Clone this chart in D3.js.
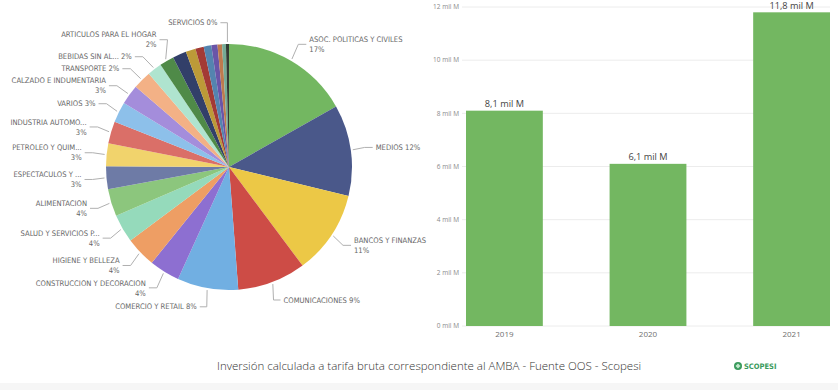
<!DOCTYPE html>
<html><head><meta charset="utf-8">
<script src="https://cdn.jsdelivr.net/npm/d3@7"></script>
<style>
html,body{margin:0;padding:0;background:#fff;}
svg{display:block;}
</style></head>
<body>
<svg id="c" width="838" height="390"></svg>
<script>
// ---------- DATA ----------
const pieCategories = [
  "ASOC. POLITICAS Y CIVILES","MEDIOS","BANCOS Y FINANZAS","COMUNICACIONES","COMERCIO Y RETAIL",
  "CONSTRUCCION Y DECORACION","HIGIENE Y BELLEZA","SALUD Y SERVICIOS P...","ALIMENTACION","ESPECTACULOS Y ...",
  "PETROLEO Y QUIM...","INDUSTRIA AUTOMO...","VARIOS","CALZADO E INDUMENTARIA","TRANSPORTE",
  "BEBIDAS SIN AL...","ARTICULOS PARA EL HOGAR","OTRO 1","OTRO 2","OTRO 3","OTRO 4","OTRO 5","OTRO 6","OTRO 7","SERVICIOS"
];
const pieShares = [16.8,12.0,11.0,9.0,8.0,4.0,4.0,3.7,3.6,3.0,3.0,2.9,2.7,2.6,2.4,1.9,1.9,1.8,1.3,1.1,1.0,0.8,0.6,0.5,0.4];
const pieColors = ["#73B761","#4A588A","#ECC846","#CD4C46","#71AFE2","#8D6FD1","#EE9E64","#95DABB","#8CC67D","#6E7BA6",
  "#F1D36C","#DA6F68","#8DC0EA","#A48DDB","#F3B186","#AFE4CF","#4F8A48","#323F69","#BC9A38","#A33A35","#5484AF","#6A55A8","#BE7A4E","#74AA95","#333B33"];
const labeledCategories = pieCategories.filter(c => !c.startsWith("OTRO"));

const years = ["2019","2020","2021"];
const investment = [8.1, 6.1, 11.8];          // mil M
const yTicks = [0,2,4,6,8,10,12];
const footerText = "Inversión calculada a tarifa bruta correspondiente al AMBA - Fuente OOS - Scopesi";

// ---------- LAYOUT CONFIG ----------
const wrapped = new Set(["ASOC. POLITICAS Y CIVILES","BANCOS Y FINANZAS","CONSTRUCCION Y DECORACION","HIGIENE Y BELLEZA",
  "SALUD Y SERVICIOS P...","ALIMENTACION","ESPECTACULOS Y ...","PETROLEO Y QUIM...","INDUSTRIA AUTOMO...",
  "CALZADO E INDUMENTARIA","ARTICULOS PARA EL HOGAR"]);

const svg = d3.select("#c");
svg.append("rect").attr("x",0).attr("y",383).attr("width",838).attr("height",7).attr("fill","#f6f6f6");

// ---------- PIE ----------
const cx = 229, cy = 167, r = 123;
const pieG = svg.append("g");
const data = pieCategories.map((c,i)=>({name:c, value:pieShares[i], color:pieColors[i]}));
const pie = d3.pie().value(d=>d.value).sort(null);
const arcs = pie(data);
const arc = d3.arc().innerRadius(0).outerRadius(r);
pieG.selectAll("path").data(arcs).join("path")
  .attr("transform",`translate(${cx},${cy})`)
  .attr("d",arc).attr("fill",d=>d.data.color);

const total = d3.sum(pieShares);
const LH = 10, Ry = 142, Rx = 145;
let labels = arcs.filter(a=>labeledCategories.includes(a.data.name)).map(a=>{
  const m = (a.startAngle+a.endAngle)/2;
  const side = Math.sin(m) >= -0.001 && m < Math.PI*1.99 ? 1 : -1;
  const pct = Math.round(a.data.value/total*100) + "%";
  const lines = wrapped.has(a.data.name) ? [a.data.name, pct] : [a.data.name + " " + pct];
  return {a, m, side, lines, h: lines.length*LH, y: cy - Ry*Math.cos(m)};
});
// collision relaxation per side
[1,-1].forEach(s=>{
  const L = labels.filter(l=>l.side===s).sort((p,q)=>p.y-q.y);
  for(let it=0; it<60; it++){
    for(let i=1;i<L.length;i++){
      const need = (L[i-1].h+L[i].h)/2 + 2;
      const gap = L[i].y - L[i-1].y;
      if(gap < need){ const d=(need-gap)/2; L[i].y+=d; L[i-1].y-=d; }
    }
  }
});
const lg = svg.append("g");
labels.forEach(l=>{
  const sx = cx + (r+2)*Math.sin(l.m), sy = cy - (r+2)*Math.cos(l.m);
  const dy = l.y - cy;
  let endX, elbowX;
  if(Math.abs(dy) < 130){
    endX = cx + l.side*Math.sqrt(Rx*Rx - dy*dy);
    elbowX = endX - l.side*8;
  } else {
    elbowX = cx + (r+4)*Math.sin(l.m);
    endX = elbowX + l.side*7;
  }
  lg.append("polyline")
    .attr("points",`${sx},${sy} ${elbowX},${l.y} ${endX},${l.y}`)
    .attr("fill","none").attr("stroke","#b0b0b0").attr("stroke-width",1);
  const t = lg.append("text")
    .attr("x", endX + l.side*3)
    .attr("text-anchor", l.side>0 ? "start":"end")
    .attr("font-family","'DejaVu Sans Condensed','Liberation Sans Narrow',sans-serif")
    .attr("font-size",7.6).attr("fill","#666");
  l.lines.forEach((ln,i)=>{
    t.append("tspan").attr("x", endX + l.side*3)
      .attr("y", l.y - (l.lines.length-1)*LH/2 + i*LH)
      .attr("dy","0.35em").text(ln);
  });
});

// ---------- BAR CHART ----------
const x = d3.scaleBand().domain(years).range([466,830]).paddingInner(0.465).paddingOuter(0);
const y = d3.scaleLinear().domain([0,12]).range([326,7]);
const bg = svg.append("g");
bg.selectAll("line.grid").data(yTicks).join("line").attr("class","grid")
  .attr("x1",462).attr("x2",830).attr("y1",d=>y(d)).attr("y2",d=>y(d))
  .attr("stroke","#ececec").attr("stroke-width",1);
bg.selectAll("text.yt").data(yTicks).join("text").attr("class","yt")
  .attr("x",459).attr("y",d=>y(d)).attr("dy","0.35em").attr("text-anchor","end")
  .attr("font-family","'Open Sans',sans-serif").attr("font-size",6.5).attr("fill","#8a8a8a")
  .text(d=>d+" mil M");
bg.selectAll("rect.bar").data(investment).join("rect").attr("class","bar")
  .attr("x",(d,i)=>x(years[i])).attr("width",x.bandwidth())
  .attr("y",d=>y(d)).attr("height",d=>y(0)-y(d)).attr("fill","#73B761");
bg.selectAll("text.val").data(investment).join("text").attr("class","val")
  .attr("x",(d,i)=>x(years[i])+x.bandwidth()/2).attr("y",d=>y(d)-7).attr("dy","0.35em")
  .attr("text-anchor","middle")
  .attr("font-family","'Open Sans',sans-serif").attr("font-size",9.2).attr("fill","#444")
  .text(d=>d.toFixed(1).replace(".",",")+" mil M");
bg.selectAll("text.xt").data(years).join("text").attr("class","xt")
  .attr("x",d=>x(d)+x.bandwidth()/2).attr("y",334).attr("dy","0.35em")
  .attr("text-anchor","middle")
  .attr("font-family","'Open Sans',sans-serif").attr("font-size",8).attr("fill","#707070")
  .text(d=>d);

// ---------- FOOTER ----------
svg.append("text").attr("x",217).attr("y",366).attr("dy","0.35em")
  .attr("font-family","'Open Sans',sans-serif").attr("font-weight",300).attr("font-size",11.5).attr("fill","#333")
  .text(footerText);
const logo = svg.append("g").attr("transform","translate(738,366)");
logo.append("circle").attr("r",4).attr("fill","#3a9a5c");
logo.append("path").attr("d","M0,-2.5 L2.5,0 L0,2.5 L-2.5,0Z").attr("fill","#c2e8cc");
logo.append("text").attr("x",6).attr("dy","0.35em")
  .attr("font-family","'DejaVu Sans Condensed',sans-serif").attr("font-weight","bold")
  .attr("font-size",7.5).attr("fill","#3a9a5c").text("SCOPESI");
</script>
</body></html>
